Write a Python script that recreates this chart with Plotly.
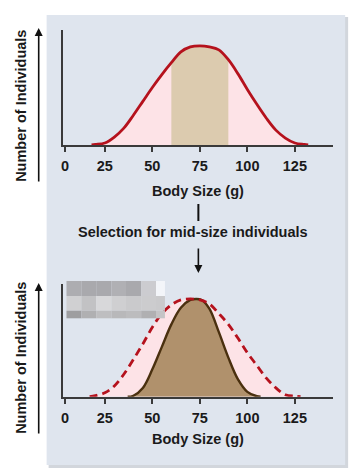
import plotly.graph_objects as go

# ---------------- data ----------------
body_size_before = [18, 20, 25, 30, 35, 40, 45, 50, 55, 60, 65, 70, 75, 80, 85, 90,
                    95, 100, 105, 110, 115, 120, 125, 130, 132]
count_before = [0.0, 0.005, 0.02, 0.08, 0.17, 0.30, 0.44, 0.58, 0.71, 0.83, 0.94, 0.99,
                1.0, 0.99, 0.96, 0.86, 0.72, 0.56, 0.41, 0.27, 0.15, 0.07, 0.02, 0.005, 0.0]

selected_low, selected_high = 60, 90

body_size_dashed = [17, 20, 25, 30, 35, 40, 45, 50, 55, 60, 65, 70, 75, 80, 85, 90,
                    95, 100, 105, 110, 115, 120, 125, 128]
count_dashed = [0.0, 0.01, 0.04, 0.11, 0.23, 0.38, 0.54, 0.71, 0.85, 0.94, 0.99, 1.0,
                0.99, 0.95, 0.85, 0.74, 0.60, 0.45, 0.32, 0.19, 0.09, 0.02, 0.005, 0.0]

body_size_after = [37, 40, 45, 50, 55, 60, 65, 70, 73, 76, 80, 85, 90, 95, 100, 105, 107]
count_after = [0.0, 0.01, 0.09, 0.28, 0.51, 0.74, 0.91, 0.99, 1.0, 0.99, 0.90, 0.66,
               0.40, 0.18, 0.05, 0.005, 0.0]

tick_values = [4, 25, 50, 75, 100, 125]
tick_labels = ["0", "25", "50", "75", "100", "125"]

# ---------------- styling ----------------
W, H = 363, 472
FONT = "Liberation Sans, Arial, sans-serif"
RED = "#b5121d"
PINK = "#fde3e7"
TAN = "#dccbaf"
BROWN_FILL = "#b0916c"
BROWN_LINE = "#4a300f"
AXIS = "#3a3a3a"
PANEL = "#dfe5ee"
FS = 14.5


def px(p):
    return p / W


def py(p):
    return 1 - p / H


fig = go.Figure()

# ---- top chart ----
fig.add_trace(go.Scatter(x=body_size_before, y=count_before, mode="lines",
                         line=dict(width=0, shape="spline"), fill="tozeroy",
                         fillcolor=PINK, xaxis="x", yaxis="y", hoverinfo="skip"))
band_x = [v for v in body_size_before if selected_low <= v <= selected_high]
band_y = [c for v, c in zip(body_size_before, count_before) if selected_low <= v <= selected_high]
fig.add_trace(go.Scatter(x=band_x, y=band_y, mode="lines",
                         line=dict(width=0, shape="spline"), fill="tozeroy",
                         fillcolor=TAN, xaxis="x", yaxis="y", hoverinfo="skip"))
fig.add_trace(go.Scatter(x=body_size_before, y=count_before, mode="lines",
                         line=dict(color=RED, width=2.8, shape="spline"),
                         xaxis="x", yaxis="y"))

# ---- bottom chart ----
fig.add_trace(go.Scatter(x=body_size_dashed, y=count_dashed, mode="lines",
                         line=dict(width=0, shape="spline"), fill="tozeroy",
                         fillcolor=PINK, xaxis="x2", yaxis="y2", hoverinfo="skip"))
fig.add_trace(go.Scatter(x=body_size_after, y=count_after, mode="lines",
                         line=dict(color=BROWN_LINE, width=2.4, shape="spline"),
                         fill="tozeroy", fillcolor=BROWN_FILL,
                         xaxis="x2", yaxis="y2"))
fig.add_trace(go.Scatter(x=body_size_dashed, y=count_dashed, mode="lines",
                         line=dict(color=RED, width=2.8, shape="spline", dash="8px,5px"),
                         xaxis="x2", yaxis="y2"))

xcommon = dict(range=[3.24, 145.2], showline=True, linecolor=AXIS, linewidth=2,
               ticks="outside", ticklen=5, tickwidth=1.5, tickcolor=AXIS,
               tickvals=tick_values, ticktext=["<b>%s</b>" % t for t in tick_labels],
               tickfont=dict(family=FONT, size=FS, color="#1a1a1a"),
               showgrid=False, zeroline=False, fixedrange=True, ticklabelstandoff=2)
ycommon = dict(showline=True, linecolor=AXIS, linewidth=2, ticks="",
               showticklabels=False, showgrid=False, zeroline=False, fixedrange=True)

fig.update_layout(
    width=W, height=H,
    margin=dict(l=0, r=0, t=0, b=0),
    paper_bgcolor="white",
    plot_bgcolor="white",
    showlegend=False,
    xaxis=dict(domain=[px(61), px(333)], anchor="y", **xcommon),
    yaxis=dict(domain=[py(145), py(30)], range=[0, 1.16], anchor="x", **ycommon),
    xaxis2=dict(domain=[px(61), px(333)], anchor="y2", **xcommon),
    yaxis2=dict(domain=[py(396.7), py(284)], range=[0, 1.153], anchor="x2", **ycommon),
)

shapes = []
# panel shadow + panel
shapes.append(dict(type="rect", xref="paper", yref="paper", x0=px(46), x1=px(348),
                   y0=py(468), y1=py(17), fillcolor="#d2d6dc", line_width=0, layer="below"))
shapes.append(dict(type="rect", xref="paper", yref="paper", x0=px(44), x1=px(345),
                   y0=py(465), y1=py(15), fillcolor=PANEL, line_width=0, layer="below"))
# connector line
shapes.append(dict(type="line", xref="paper", yref="paper", x0=px(197), x1=px(197),
                   y0=py(204), y1=py(221), line=dict(color="#111", width=2)))

# pixelated (redacted) block
mosaic_rows = [
    ["#adadb1", "#a9a9ad", "#a9a9ad", "#b0b0b4", "#a9a9ad", "#ccccd0", "#f3f5f9"],
    ["#d0d0d2", "#c2c2c4", "#d8d8da", "#cfcfd1", "#cacacc", "#ccccce", "#cacacc"],
    ["#9e9ea0", "#b0b0b2", "#bebec0", "#b8b8ba", "#bcbcbe", "#b0b0b2", "#c4c4c6"],
]
col_edges = [64, 79, 94, 109.3, 124, 139.3, 154.3, 163.3]
row_edges = [281, 296, 310.7, 318.3]
for r, row in enumerate(mosaic_rows):
    for c, col in enumerate(row):
        shapes.append(dict(type="rect", xref="paper", yref="paper",
                           x0=px(col_edges[c]), x1=px(col_edges[c + 1]),
                           y0=py(row_edges[r + 1]), y1=py(row_edges[r]),
                           fillcolor=col, line_width=0, layer="above"))
fig.update_layout(shapes=shapes)

ann = []
tfont = dict(family=FONT, size=FS, color="#1a1a1a")
ann.append(dict(text="<b>Body Size (g)</b>", xref="paper", yref="paper",
                x=px(197), y=py(191), showarrow=False, font=tfont,
                xanchor="center", yanchor="middle"))
ann.append(dict(text="<b>Body Size (g)</b>", xref="paper", yref="paper",
                x=px(197), y=py(439), showarrow=False, font=tfont,
                xanchor="center", yanchor="middle"))
ann.append(dict(text="<b>Selection for mid-size individuals</b>", xref="paper", yref="paper",
                x=px(191.5), y=py(232), showarrow=False, font=tfont,
                xanchor="center", yanchor="middle"))
ann.append(dict(text="<b>Number of Individuals</b>", xref="paper", yref="paper",
                x=px(18), y=py(106), showarrow=False, font=tfont, textangle=-90,
                xanchor="center", yanchor="middle"))
ann.append(dict(text="<b>Number of Individuals</b>", xref="paper", yref="paper",
                x=px(18), y=py(358), showarrow=False, font=tfont, textangle=-90,
                xanchor="center", yanchor="middle"))
# arrows
ann.append(dict(text="", xref="paper", yref="paper", x=px(36), y=py(28),
                ax=0, ay=155, showarrow=True, arrowhead=2, arrowsize=1,
                arrowwidth=1.6, arrowcolor="#111"))
ann.append(dict(text="", xref="paper", yref="paper", x=px(36), y=py(283),
                ax=0, ay=152, showarrow=True, arrowhead=2, arrowsize=1,
                arrowwidth=1.6, arrowcolor="#111"))
ann.append(dict(text="", xref="paper", yref="paper", x=px(197), y=py(273),
                ax=0, ay=-26, showarrow=True, arrowhead=2, arrowsize=1,
                arrowwidth=1.6, arrowcolor="#111"))
fig.update_layout(annotations=ann)

fig.write_html("out.html", config={"displayModeBar": False},
               post_script="document.body.style.margin='0';document.body.style.padding='0';")
